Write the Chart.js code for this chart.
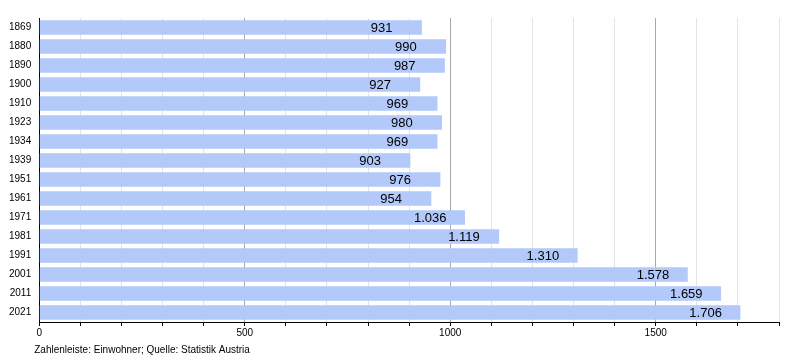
<!DOCTYPE html>
<html>
<head>
<meta charset="utf-8">
<script src="https://cdn.jsdelivr.net/npm/chart.js@4"></script>
<style>
html,body{margin:0;padding:0;background:#fff;}
#wrap{width:800px;height:360px;position:relative;}
</style>
</head>
<body>
<div id="wrap"><canvas id="popChart"></canvas></div>
<script>
const years=['1869','1880','1890','1900','1910','1923','1934','1939','1951','1961','1971','1981','1991','2001','2011','2021'];
const population=[931,990,987,927,969,980,969,903,976,954,1036,1119,1310,1578,1659,1706];
const xTickLabels=[0,500,1000,1500];
const footerText='Zahlenleiste: Einwohner; Quelle: Statistik Austria';

const fontFamily='"Liberation Sans", Arial, sans-serif';

function formatDe(v){
return v.toLocaleString('de-DE');
}

// value labels inside the bar end
const valueLabels={
id:'valueLabels',
afterDatasetsDraw(chart){
const ctx=chart.ctx;
const meta=chart.getDatasetMeta(0);
ctx.save();
ctx.font='13px '+fontFamily;
ctx.fillStyle='#000';
ctx.textAlign='left';
ctx.textBaseline='middle';
meta.data.forEach((bar,i)=>{
ctx.fillText(formatDe(population[i]),bar.x-51,bar.y+1);
});
ctx.restore();
}
};

// source line under the axis
const footer={
id:'footer',
afterDraw(chart){
const ctx=chart.ctx;
ctx.save();
ctx.font='10px '+fontFamily;
ctx.fillStyle='#000';
ctx.textAlign='left';
ctx.textBaseline='alphabetic';
ctx.fillText(footerText,chart.chartArea.left-5,chart.height-7);
ctx.restore();
}
};

new Chart(document.getElementById('popChart'),{
type:'bar',
data:{
labels:years,
datasets:[{
data:population,
backgroundColor:'rgb(178,201,250)',
borderWidth:0,
barPercentage:0.77,
categoryPercentage:1
}]
},
options:{
indexAxis:'y',
responsive:true,
maintainAspectRatio:false,
animation:false,
layout:{padding:{left:1,right:21,top:18,bottom:20}},
plugins:{legend:{display:false},tooltip:{enabled:false}},
scales:{
x:{
min:0,
max:1800,
ticks:{
stepSize:100,
autoSkip:false,
maxRotation:0,
color:'#000',
font:{size:10,family:fontFamily},
padding:1,
callback:(v)=>xTickLabels.includes(v)?String(v):''
},
grid:{
color:(c)=>c.tick && c.tick.value%500===0?'#a8a8a8':'#e4e4e4',
tickColor:'#000',
tickLength:4,
drawTicks:true
},
border:{display:true,color:'#000',width:1}
},
y:{
ticks:{
color:'#000',
font:{size:10,family:fontFamily},
padding:8
},
grid:{display:false,drawTicks:false},
border:{display:true,color:'#000',width:1}
}
}
},
plugins:[valueLabels,footer]
});
</script>
</body>
</html>
